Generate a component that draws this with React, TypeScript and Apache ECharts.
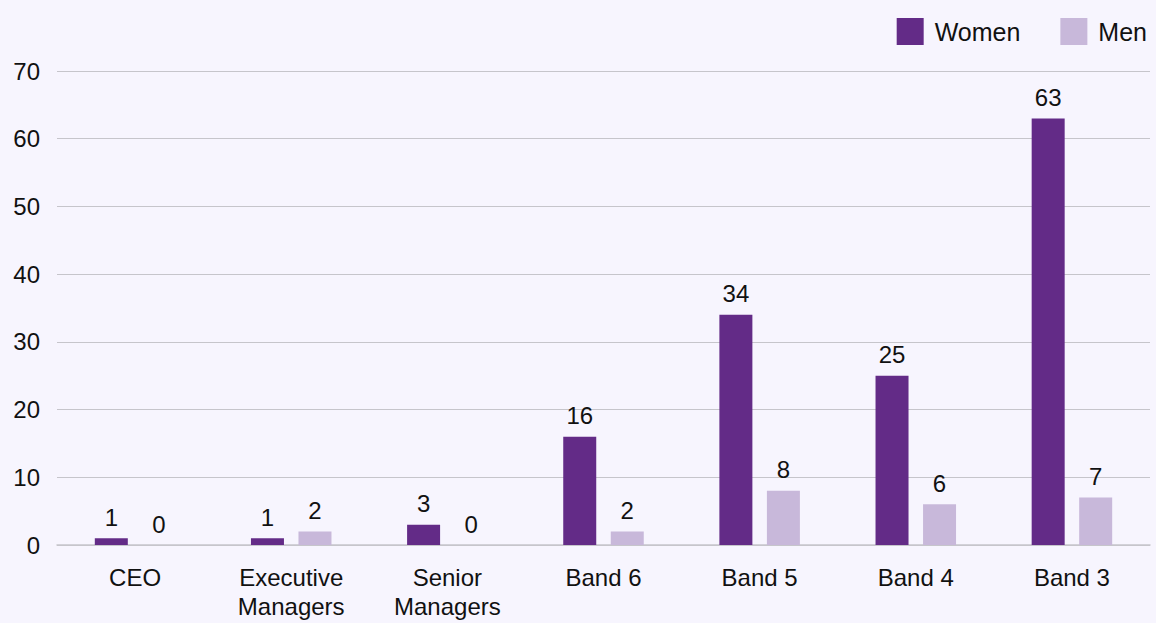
import React, { useEffect, useRef } from "react";
import * as echarts from "echarts";

const categories = [
  "CEO",
  "Executive\nManagers",
  "Senior\nManagers",
  "Band 6",
  "Band 5",
  "Band 4",
  "Band 3",
];
const women = [1, 1, 3, 16, 34, 25, 63];
const men = [0, 2, 0, 2, 8, 6, 7];
const yTicks = { min: 0, max: 70, interval: 10 };

const FONT = "'Liberation Sans', Arial, Helvetica, sans-serif";
const WOMEN_COLOR = "#632b87";
const MEN_COLOR = "#c8b8da";
const TEXT_COLOR = "#111";
const FONT_SIZE = 24;

export default function App() {
  const ref = useRef<HTMLDivElement>(null);

  useEffect(() => {
    if (!ref.current) return;
    const chart = echarts.init(ref.current, undefined, { renderer: "svg" });
    const label = {
      show: true,
      position: "top" as const,
      distance: 9,
      color: TEXT_COLOR,
      fontSize: FONT_SIZE,
      fontFamily: FONT,
    };
    chart.setOption({
      animation: false,
      backgroundColor: "#f7f5fe",
      textStyle: { fontFamily: FONT },
      legend: {
        right: 4,
        top: 13,
        icon: "rect",
        itemWidth: 27,
        itemHeight: 27,
        itemGap: 40,
        textStyle: {
          fontSize: 25,
          color: TEXT_COLOR,
          fontFamily: FONT,
          padding: [0, 0, 0, 6],
        },
        data: ["Women", "Men"],
      },
      grid: { left: 57, right: 6, top: 71, bottom: 78, containLabel: false },
      xAxis: {
        type: "category",
        data: categories,
        axisTick: { show: false },
        axisLine: { lineStyle: { color: "#c6c5cb", width: 1.5 } },
        axisLabel: {
          color: TEXT_COLOR,
          fontSize: FONT_SIZE,
          fontFamily: FONT,
          margin: 18,
          lineHeight: 29,
          interval: 0,
        },
      },
      yAxis: {
        type: "value",
        min: yTicks.min,
        max: yTicks.max,
        interval: yTicks.interval,
        axisLine: { show: false },
        axisTick: { show: false },
        splitLine: { lineStyle: { color: "#c6c5cb", width: 1.2 } },
        axisLabel: {
          color: TEXT_COLOR,
          fontSize: FONT_SIZE,
          fontFamily: FONT,
          margin: 17,
        },
      },
      series: [
        {
          name: "Women",
          type: "bar",
          data: women,
          itemStyle: { color: WOMEN_COLOR },
          barWidth: 33,
          barGap: "44%",
          barCategoryGap: "48%",
          label,
        },
        {
          name: "Men",
          type: "bar",
          data: men,
          itemStyle: { color: MEN_COLOR },
          barWidth: 33,
          label,
        },
      ],
    });
    return () => chart.dispose();
  }, []);

  return (
    <div
      ref={ref}
      style={{ position: "fixed", left: 0, top: 0, width: 1156, height: 623 }}
    />
  );
}
